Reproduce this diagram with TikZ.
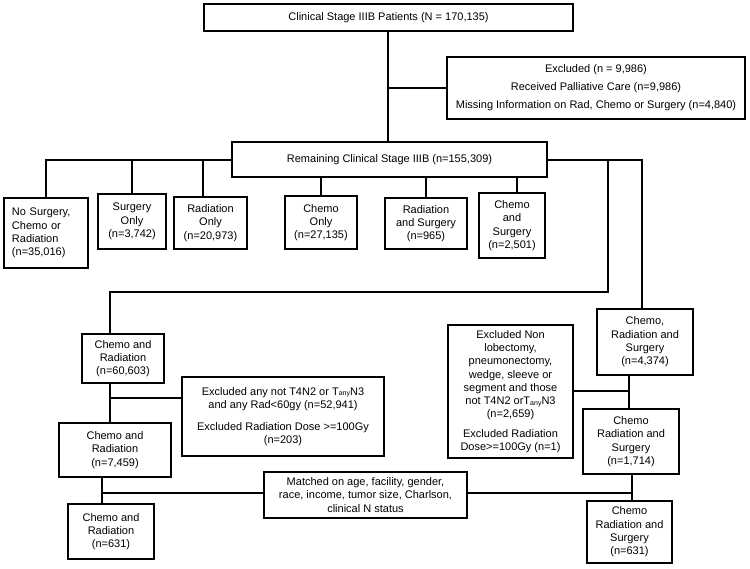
\documentclass[tikz,border=0pt]{standalone}
\usepackage{fontspec}
\setmainfont{Liberation Sans}
\usetikzlibrary{calc}
\usetikzlibrary{positioning}
\tikzset{
  box/.style={draw, line width=1.1pt, align=center, inner sep=1pt,
    font=\fontsize{11}{13.3}\selectfont},
  leftbox/.style={box, align=left, text width=68pt, inner xsep=8pt},
  link/.style={line width=2pt},
}
\newcommand{\anyN}{T\raisebox{-0.4pt}{\fontsize{7}{7}\selectfont any}N3}

\begin{document}
\begin{tikzpicture}[x=1pt, y=-1pt]
  \useasboundingbox (0,0) rectangle (750,568);

  % top part
  \node [box, minimum width=369pt, minimum height=27pt] (top) at (388.5,17.5) {Clinical Stage IIIB Patients (N = 170,135)};
  \node [box, minimum width=298pt, minimum height=62pt] (excl) at (596,88) {Excluded (n = 9,986)\\[4.7pt] Received Palliative Care (n=9,986)\\[4.7pt] Missing Information on Rad, Chemo or Surgery (n=4,840)};
  \node [box, minimum width=315pt, minimum height=35pt] (rem) at (389.5,159.5) {Remaining Clinical Stage IIIB (n=155,309)};

  % treatment groups
  \node [leftbox, minimum height=70pt] (none) at (46,233) {No Surgery,\\ Chemo or\\ Radiation\\ (n=35,016)};
  \node [box, minimum width=68pt, minimum height=55pt] (surg) at (132,221.5) {Surgery\\ Only\\ (n=3,742)};
  \node [box, minimum width=73pt, minimum height=52pt] (rad) at (210.5,223) {Radiation\\ Only\\ (n=20,973)};
  \node [box, minimum width=72pt, minimum height=53pt] (chemo) at (321,222.5) {Chemo\\ Only\\ (n=27,135)};
  \node [box, minimum width=82pt, minimum height=51pt] (radsurg) at (426,223.5) {Radiation\\ and Surgery\\ (n=965)};
  \node [box, minimum width=66pt, minimum height=65pt] (chemosurg) at (512,225.5) {Chemo\\ and\\ Surgery\\ (n=2,501)};

  % chemo and radiation
  \node [box, minimum width=82pt, minimum height=49pt] (cr1) at (123,358.5) {Chemo and\\ Radiation\\ (n=60,603)};
  \node [box, minimum width=202pt, minimum height=79pt] (ex1) at (283,416.5) {Excluded any not T4N2 or \anyN\\ and any Rad<60gy (n=52,941)\\[8pt] Excluded Radiation Dose >=100Gy\\ (n=203)};
  \node [box, minimum width=112pt, minimum height=54pt] (cr2) at (115,450) {Chemo and\\ Radiation\\ (n=7,459)};
  \node [box, minimum width=86pt, minimum height=55pt] (cr3) at (111,531.5) {Chemo and\\ Radiation\\ (n=631)};
  \node [box, minimum width=203pt, minimum height=46pt] (match) at (365.5,495) {Matched on age, facility, gender,\\ race, income, tumor size, Charlson,\\ clinical N status};

  % chemo, radiation and surgery
  \node [box, minimum width=96pt, minimum height=66pt] (crs1) at (645,342) {Chemo,\\ Radiation and\\ Surgery\\ (n=4,374)};
  \node [box, minimum width=125pt, minimum height=133pt] (ex2) at (510.5,391.5) {Excluded Non\\ lobectomy,\\ pneumonectomy,\\ wedge, sleeve or\\ segment and those\\ not T4N2 or\anyN\\ (n=2,659)\\[6pt] Excluded Radiation\\ Dose>=100Gy (n=1)};
  \node [box, minimum width=96pt, minimum height=65pt] (crs2) at (631,441.5) {Chemo\\ Radiation and\\ Surgery\\ (n=1,714)};
  \node [box, minimum width=85pt, minimum height=62pt] (crs3) at (629.5,532) {Chemo\\ Radiation and\\ Surgery\\ (n=631)};

  % joints
  \coordinate (s0) at (388,88);
  \coordinate (s1) at (110,398);
  \coordinate (s2) at (102,493);
  \coordinate (s3) at (629,391);
  \coordinate (s4) at (632,493);
  \coordinate (r1) at (608,292);
  \coordinate (r2) at (642,159.5);
  \coordinate (l1) at (110,292);

  \draw [link] (top.south -| s0) -- (rem.north -| s0);
  \draw [link] (s0) -- (s0 -| excl.west);

  \draw [link] (rem.west) -| (none.north);
  \draw [link] (surg.north) -- (surg.north |- rem.west);
  \draw [link] ([xshift=-8pt]rad.north) -- ([xshift=-8pt]rad.north |- rem.west);
  \draw [link] (rem.south -| chemo.north) -- (chemo.north);
  \draw [link] (rem.south -| radsurg.north) -- (radsurg.north);
  \draw [link] ([xshift=5pt]rem.south -| chemosurg.north) -- ([xshift=5pt]chemosurg.north);

  \draw [link] (rem.east) -- (r2) -- (r2 |- crs1.north);
  \draw [link] (rem.east -| r1) -- (r1) -- (l1) -- (l1 |- cr1.north);

  \draw [link] (cr1.south -| s1) -- (cr2.north -| s1);
  \draw [link] (s1) -- (s1 -| ex1.west);
  \draw [link] (cr2.south -| s2) -- (cr3.north -| s2);
  \draw [link] (s2) -- (s2 -| match.west);

  \draw [link] (crs1.south -| s3) -- (crs2.north -| s3);
  \draw [link] (s3) -- (s3 -| ex2.east);
  \draw [link] (crs2.south -| s4) -- (crs3.north -| s4);
  \draw [link] (s4) -- (s4 -| match.east);
\end{tikzpicture}
\end{document}
